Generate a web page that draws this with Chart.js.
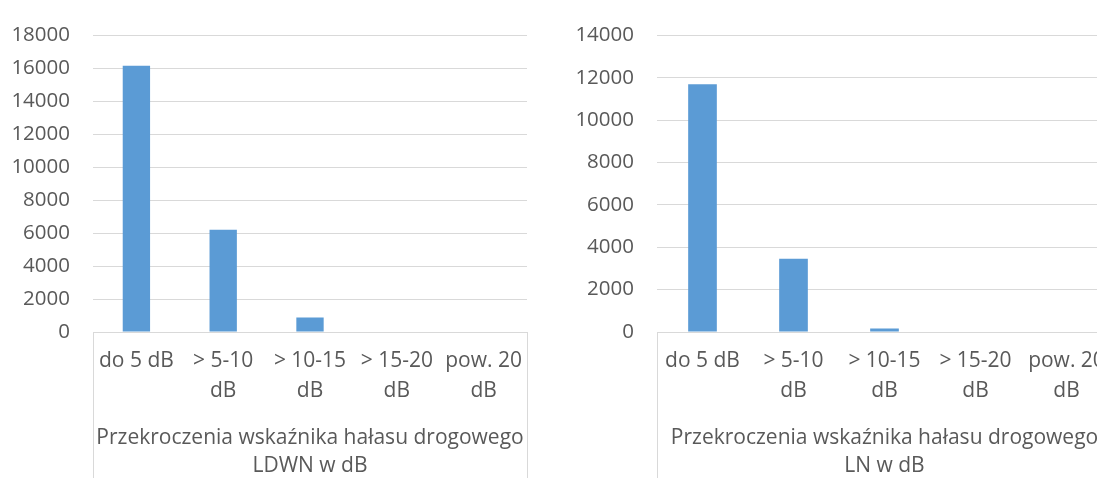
<!DOCTYPE html>
<html lang="pl">
<head>
<meta charset="utf-8">
<title>Przekroczenia wskaźnika hałasu drogowego</title>
<script src="https://cdn.jsdelivr.net/npm/chart.js@4.4.0/dist/chart.umd.min.js"></script>
<style>
  html, body { margin: 0; padding: 0; background: #ffffff; }
  body { width: 1097px; height: 478px; overflow: hidden; position: relative; }
  canvas { position: absolute; top: 0; }
  #chart-ldwn { left: 0; }
  #chart-ln { left: 560px; }
</style>
</head>
<body>
<canvas id="chart-ldwn" width="548" height="478"></canvas>
<canvas id="chart-ln" width="560" height="478"></canvas>
<script>
// Two bar charts: number of exceedances of the road-noise indicators
// (LDWN on the left, LN on the right), grouped by how many dB over the limit.

const categories = ["do 5 dB", ["> 5-10", "dB"], ["> 10-15", "dB"], ["> 15-20", "dB"], ["pow. 20", "dB"]];

const ldwnValues = [16160, 6200, 880, 0, 0];
const lnValues = [11690, 3460, 170, 0, 0];

const ldwnTitle = ["Przekroczenia wskaźnika hałasu drogowego", "LDWN w dB"];
const lnTitle = ["Przekroczenia wskaźnika hałasu drogowego", "LN w dB"];

const ldwnMax = 18000;
const lnMax = 14000;
const tickStep = 2000;

const BAR = "#5b9bd5";
const GRID = "#d9d9d9";
const TEXT = "#595959";
const FONT = "'Open Sans', sans-serif";

// ── Category dividers ─────────────────────────────────────────────
// Vertical rules at both ends of the category axis, running down past
// the labels and the outer-level title.

const dividers = {
  id: "dividers",
  afterDraw(chart) {
    const { ctx, chartArea } = chart;
    ctx.save();
    ctx.strokeStyle = GRID;
    ctx.lineWidth = 1;
    ctx.beginPath();
    [chartArea.left, chartArea.right].forEach((x) => {
      const px = Math.round(x) + 0.5;
      ctx.moveTo(px, chartArea.bottom);
      ctx.lineTo(px, chart.height);
    });
    ctx.stroke();
    ctx.restore();
  },
};

// ── Chart builder ─────────────────────────────────────────────────

function makeChart(id, values, yMax, title, box) {
  const ctx = document.getElementById(id).getContext("2d");
  return new Chart(ctx, {
    type: "bar",
    data: {
      labels: categories,
      datasets: [{
        data: values,
        backgroundColor: BAR,
        borderWidth: 0,
        categoryPercentage: 1,
        barPercentage: 0.315,
      }],
    },
    plugins: [dividers],
    options: {
      responsive: false,
      devicePixelRatio: 1,
      animation: false,
      events: [],
      layout: { padding: { top: box.top, right: box.right, bottom: 0, left: 0 } },
      plugins: { legend: { display: false }, tooltip: { enabled: false } },
      scales: {
        x: {
          grid: { display: false, drawTicks: false },
          border: { display: true, color: GRID, width: 1 },
          ticks: {
            color: TEXT,
            padding: 14,
            maxRotation: 0,
            autoSkip: false,
            font: { family: FONT, size: 21, lineHeight: 1.42 },
          },
          title: {
            display: true,
            text: title,
            color: TEXT,
            padding: { top: 0, bottom: -3 },
            font: { family: FONT, size: 21, lineHeight: 1.38 },
          },
          afterFit(scale) { scale.height = 146; },
        },
        y: {
          min: 0,
          max: yMax,
          grid: { color: GRID, lineWidth: 1, drawTicks: false },
          border: { display: false },
          ticks: {
            stepSize: tickStep,
            color: TEXT,
            padding: 23,
            font: { family: FONT, size: 20.5 },
            callback: (v) => String(v),
          },
          afterFit(scale) { scale.width = box.left; },
        },
      },
    },
  });
}

makeChart("chart-ldwn", ldwnValues, ldwnMax, ldwnTitle, { top: 27, right: 21, left: 93 });
makeChart("chart-ln", lnValues, lnMax, lnTitle, { top: 32, right: 8, left: 97 });
</script>
</body>
</html>
